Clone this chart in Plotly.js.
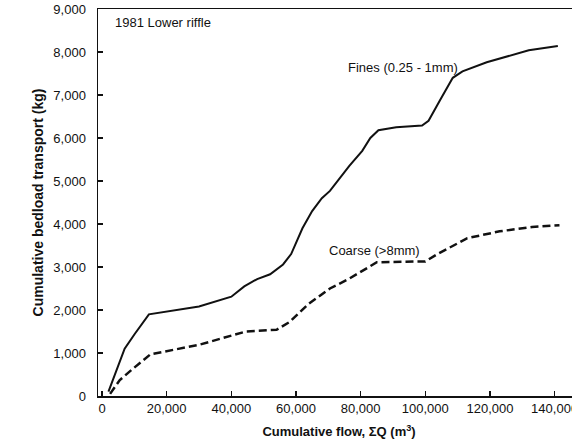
<!DOCTYPE html>
<html>
<head>
<meta charset="utf-8">
<script src="https://cdn.plot.ly/plotly-3.0.1.min.js"></script>
<style>
html,body{margin:0;padding:0;overflow:hidden;background:#fff;width:572px;height:440px;}
#chart{width:580px;height:440px;}
</style>
</head>
<body>
<div id="chart"></div>
<script>
// Cumulative flow (m3) and cumulative bedload transport (kg)
const finesFlow = [2000, 7000, 10000, 14500, 30000, 40000, 44000, 48000, 52000, 56000, 58500, 62000, 65000, 68000, 70500, 76500, 80500, 83000, 85500, 91000, 99000, 101000, 104500, 108500, 111500, 119000, 132000, 141000];
const finesLoad = [100, 1100, 1430, 1900, 2080, 2310, 2550, 2720, 2830, 3060, 3300, 3900, 4300, 4600, 4770, 5350, 5700, 6000, 6180, 6250, 6290, 6400, 6870, 7400, 7550, 7760, 8040, 8140];

const coarseFlow = [2500, 5500, 9500, 15000, 30000, 39500, 44500, 54000, 58000, 64000, 70500, 76500, 85000, 100000, 103500, 113000, 123000, 133000, 141500];
const coarseLoad = [50, 370, 630, 970, 1190, 1400, 1500, 1540, 1720, 2150, 2500, 2730, 3110, 3130, 3290, 3670, 3830, 3930, 3970];

const xTicks = [0, 20000, 40000, 60000, 80000, 100000, 120000, 140000];
const yTicks = [0, 1000, 2000, 3000, 4000, 5000, 6000, 7000, 8000, 9000];

const FONT = '"Liberation Sans", Arial, Helvetica, sans-serif';

const traces = [
  {x: finesFlow, y: finesLoad, mode: 'lines', type: 'scatter', name: 'Fines (0.25 - 1mm)',
   line: {color: '#111', width: 2}},
  {x: coarseFlow, y: coarseLoad, mode: 'lines', type: 'scatter', name: 'Coarse (>8mm)',
   line: {color: '#111', width: 2.5, dash: '8px,4px'}}
];

const layout = {
  width: 580, height: 440,
  margin: {l: 98, r: 0, t: 9, b: 44},
  paper_bgcolor: '#fff', plot_bgcolor: '#fff',
  showlegend: false,
  font: {family: FONT, size: 13, color: '#111'},
  xaxis: {
    range: [-1240, 147850],
    tickvals: xTicks, tickformat: ',',
    ticks: 'inside', ticklen: 5, tickwidth: 1.2, tickcolor: '#111',
    showgrid: false, zeroline: false,
    showline: true, linecolor: '#111', linewidth: 1.5, mirror: true,
    tickfont: {family: FONT, size: 13, color: '#111'},
    title: {text: 'Cumulative flow, ΣQ (m<sup>3</sup>)', font: {family: FONT, size: 13, color: '#111', weight: 'bold'}, standoff: 12}
  },
  yaxis: {
    range: [0, 9000.1],
    tickvals: yTicks, tickformat: ',',
    ticks: 'inside', ticklen: 5, tickwidth: 1.2, tickcolor: '#111',
    showgrid: false, zeroline: false,
    showline: true, linecolor: '#111', linewidth: 1.5, mirror: true,
    ticklabelstandoff: 8,
    tickfont: {family: FONT, size: 13, color: '#111'},
    title: {text: 'Cumulative bedload transport (kg)', font: {family: FONT, size: 14, color: '#111', weight: 'bold'}, standoff: 6}
  },
  annotations: [
    {text: '1981 Lower riffle', xref: 'paper', yref: 'paper', x: 0.032, y: 0.965, xanchor: 'left', yanchor: 'middle', showarrow: false, font: {family: FONT, size: 13, color: '#111'}},
    {text: 'Fines (0.25 - 1mm)', xref: 'x', yref: 'y', x: 75500, y: 7640, xanchor: 'left', yanchor: 'middle', showarrow: false, font: {family: FONT, size: 13, color: '#111'}},
    {text: 'Coarse (>8mm)', xref: 'x', yref: 'y', x: 69500, y: 3390, xanchor: 'left', yanchor: 'middle', showarrow: false, font: {family: FONT, size: 13, color: '#111'}}
  ]
};

Plotly.newPlot('chart', traces, layout, {displayModeBar: false, staticPlot: true});
</script>
</body>
</html>
